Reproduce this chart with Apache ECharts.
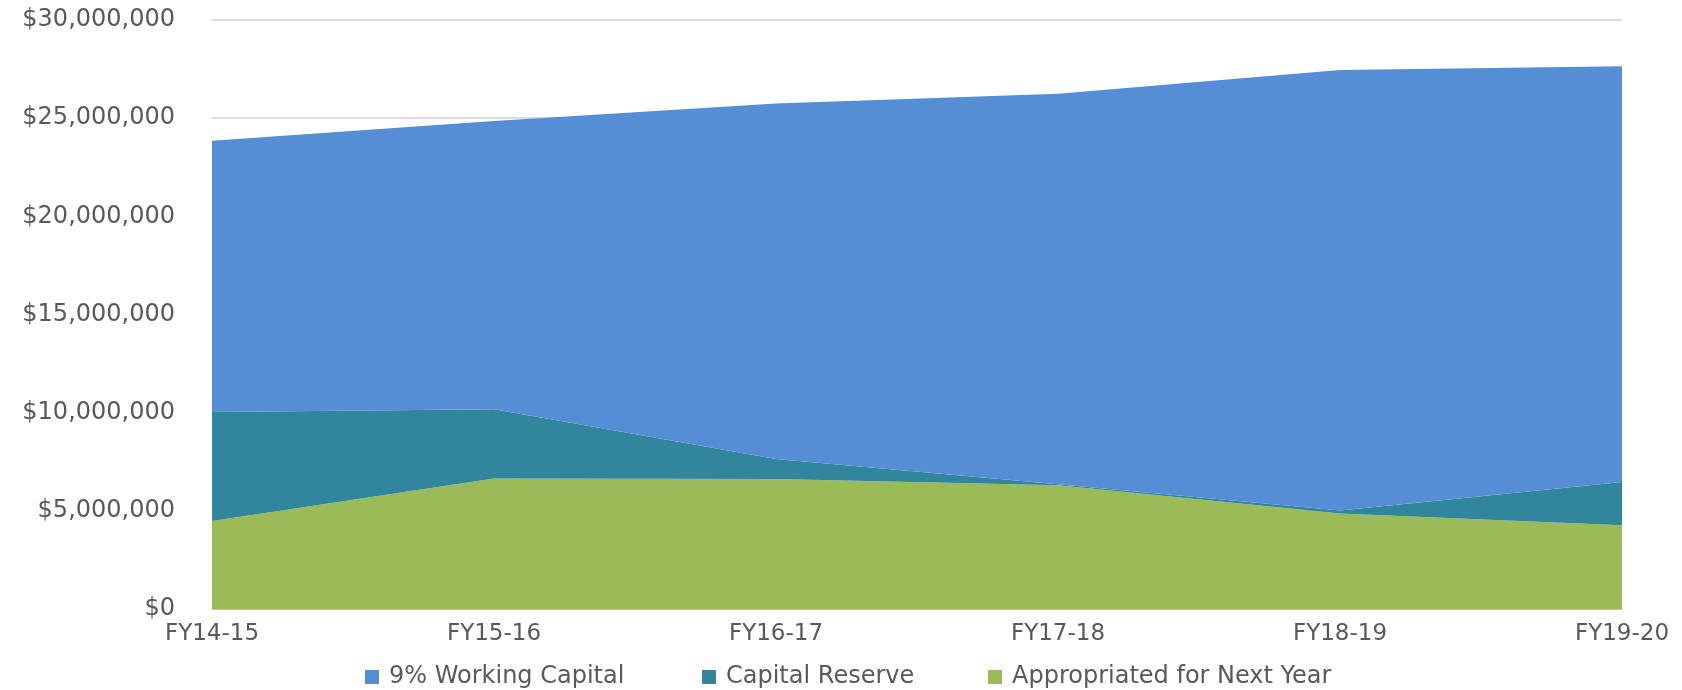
<!DOCTYPE html>
<html>
<head>
<meta charset="utf-8">
<script src="https://cdn.jsdelivr.net/npm/echarts@6/dist/echarts.min.js"></script>
<style>
  html, body { margin: 0; padding: 0; background: #fff; }
  #chart { width: 1682px; height: 690px; }
</style>
</head>
<body>
<div id="chart"></div>
<script>
// fiscal years
const years = ['FY14-15', 'FY15-16', 'FY16-17', 'FY17-18', 'FY18-19', 'FY19-20']

// stacked amounts, bottom to top
const appropriated = [4480000, 6650000, 6620000, 6300000, 4870000, 4270000]
const capitalReserve = [5550000, 3520000, 1020000, 50000, 150000, 2200000]
const workingCapital = [13820000, 14680000, 18110000, 19900000, 22430000, 21180000]

const names = ['9% Working Capital', 'Capital Reserve', 'Appropriated for Next Year']
const colors = ['#558ed5', '#31859c', '#9bbb59']

const font = 'DejaVu Sans'
const txt = '#595959'

let myChart = echarts.init(document.getElementById('chart'))

const area = (name, data, color) => ({
    name: name,
    type: 'line',
    stack: 'total',
    data: data,
    symbol: 'none',
    lineStyle: { width: 0 },
    areaStyle: { color: color, opacity: 1 },
    itemStyle: { color: color },
    emphasis: { disabled: true }
})

// one legend per entry so each can sit where it does in the picture
const legendAt = (name, left) => ({
    data: [name],
    left: left,
    top: 660,
    itemWidth: 14,
    itemHeight: 14,
    icon: 'rect',
    textStyle: { fontFamily: font, fontSize: 24, color: txt, padding: [0, 0, 0, 5] }
})

let option = {
    animation: false,
    grid: { left: 212, right: 60, top: 20, bottom: 81 },
    legend: [
        legendAt(names[0], 360),
        legendAt(names[1], 697),
        legendAt(names[2], 983)
    ],
    xAxis: {
        type: 'category',
        data: years,
        boundaryGap: false,
        axisTick: { show: false },
        axisLine: { lineStyle: { color: '#bfbfbf', width: 1 } },
        axisLabel: { fontFamily: font, fontSize: 23, color: txt, margin: 14 }
    },
    yAxis: {
        type: 'value',
        min: 0,
        max: 30000000,
        interval: 5000000,
        axisLine: { show: false },
        axisTick: { show: false },
        splitLine: { lineStyle: { color: '#d0d0d0', width: 1.5 } },
        axisLabel: {
            fontFamily: font, fontSize: 24, color: txt, margin: 37,
            formatter: v => '$' + v.toLocaleString('en-US')
        }
    },
    series: [
        area(names[2], appropriated, colors[2]),
        area(names[1], capitalReserve, colors[1]),
        area(names[0], workingCapital, colors[0])
    ]
}
myChart.setOption(option)
</script>
</body>
</html>
